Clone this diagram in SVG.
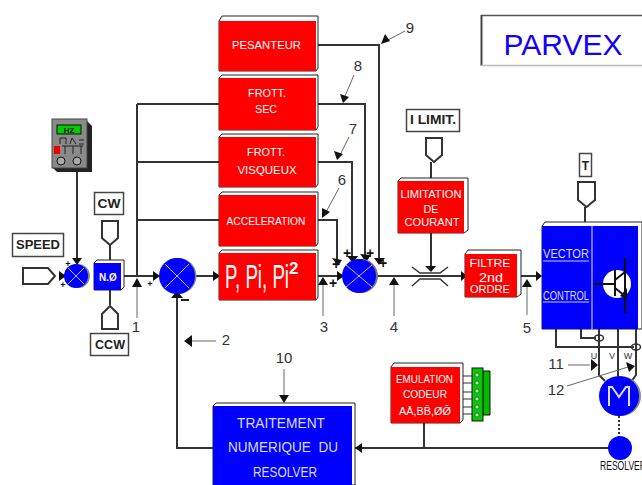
<svg xmlns="http://www.w3.org/2000/svg" width="642" height="485" viewBox="0 0 642 485">
<style>
text{font-family:"Liberation Sans",Arial,sans-serif}
.w{fill:#fff;text-anchor:middle;font-size:10px}
.u{fill:#ddf;text-anchor:middle;font-size:15px}
.n{fill:#333;font-size:15px;text-anchor:middle}
.l{fill:#222;font-size:12px;text-anchor:middle;font-weight:bold}
.c{fill:none;stroke:#333;stroke-width:2}
.t{fill:none;stroke:#666;stroke-width:1}
.r{fill:#f00}
.b{fill:#00f}
.f{fill:#fff;stroke:#222;stroke-width:1}
.lab{fill:#fff;stroke:#444;stroke-width:1.500}
.x{stroke:#bbf;stroke-width:1;fill:none}
.k{fill:#fff;stroke:#333;stroke-width:2}
.p{font-size:9px;font-weight:bold;fill:#111;text-anchor:middle}
</style>
<g id="connectors">
<path class="c" d="M77 170V263M110 245V261M110 290V305M137 104V276M137 104H219M137 162H219M137 220H219M121 276H155M195 276H214M177 297V448H213M355 448H610M424 423V448"/>
<path class="c" d="M316 45H379V260M316 104H365V258M316 162H352V259M316 220H337V262M316 276H338M377 276H461M431 162V178M431 233V266M517 276H537M585 207V222M424 423"/>
<path class="c" d="M556 329V347H634M581 329V338H596M599 329V375L605 381M618 329V376M636 329V375L631 382"/>
<path d="M619 416V437" stroke="#333" stroke-width="2" stroke-dasharray="2 2" fill="none"/>
<path class="t" d="M137 287V318M323 285V316M394 285V316M527 287V315M216 341H190M284 369V395M568 365H590M567 386L628 367M405 31L386 41M354 75L345 96M349 137L340 155M339 188L326 212"/>
<path d="M132 287H142L137 278ZM318 285H328L323 277ZM389 285H399L394 277ZM522 287H532L527 279Z" fill="#111"/>
<path d="M184 341L192 335V347ZM279 395H289L284 403ZM598 365L591 359V371ZM635 366L626 362L629 372ZM381 44L385 34L390 41ZM343 103L340 94L349 97ZM337 160L334 151L343 154ZM322 218L322 208L330 212Z" fill="#111"/>
<path d="M72 258H82L77 265ZM59 271L66 276L59 281ZM153 271L160 276L153 281ZM213 271L220 276L213 281ZM337 271L344 276L337 281ZM171 298L177 291L183 298ZM332 258L338 266L342 260ZM347 256L353 263L358 256ZM360 254L366 262L371 255ZM374 258L379 265L385 258ZM461 271L467 276L461 281ZM536 271L542 276L536 281ZM425 266H436L431 272ZM356 442L363 448L363 448ZM355 448L362 443V453Z" fill="#111"/>
</g>
<g id="parvex">
<path d="M481.500 15.500H642" stroke="#555" stroke-width="1.500" fill="none"/>
<path d="M481.500 15V66" stroke="#444" stroke-width="2" fill="none"/>
<path d="M481 65.500H642" stroke="#bbb" stroke-width="1.500" fill="none"/>
<text x="563" y="55" font-size="30" fill="#10f" text-anchor="middle">PARVEX</text>
</g>
<g id="meter">
<path d="M52 119L85 119L92 126V172H57L52 167Z" fill="#222"/>
<rect x="52" y="119" width="35" height="49" fill="#8a8a8a" stroke="#444"/>
<rect x="57" y="125" width="24" height="9" fill="#0c0" stroke="#111"/>
<text x="69" y="133" font-size="8" font-weight="bold" fill="#111" text-anchor="middle">HZ</text>
<path d="M60 144V138H66V144M70 144L72 138L76 144M79 140H84M79 144H84" fill="none" stroke="#222"/>
<rect x="54" y="146" width="6" height="8" fill="#e00"/>
<path d="M65 146V154M73 146V154M81 146V154M62 146H83" stroke="#222" fill="none"/>
<circle cx="61" cy="161" r="4" fill="#aaa" stroke="#111"/><circle cx="77" cy="161" r="4" fill="#aaa" stroke="#111"/>
</g>
<g id="speed">
<rect class="lab" x="12.500" y="233.500" width="51" height="23"/>
<text class="l" x="38" y="249" textLength="44" lengthAdjust="spacingAndGlyphs">SPEED</text>
<path class="k" d="M23 268H48L55 276L48 284H23Z"/>
</g>
<g id="sum1">
<circle cx="78" cy="276" r="12" fill="#888"/><circle cx="76" cy="276" r="12" class="b"/>
<path class="x" d="M68 268L84 284M84 268L68 284"/>
<text class="p" x="68" y="267" font-size="11">+</text><text class="p" x="63" y="288">+</text>
</g>
<g id="n0">
<path d="M94 263L97 260H124V287L121 290H94Z" fill="#fff" stroke="#222"/>
<rect x="94" y="263" width="27" height="27" class="b"/>
<text class="w" x="108" y="281" font-size="11" font-weight="bold">N.Ø</text>
</g>
<g id="cw">
<rect class="lab" x="94.500" y="192.500" width="29" height="22"/>
<text class="l" x="109" y="208" textLength="23" lengthAdjust="spacingAndGlyphs">CW</text>
<path class="k" d="M102 221H118V238L110 245L102 238Z"/>
</g>
<g id="ccw">
<path class="k" d="M110 306L118 314V329H102V314Z"/>
<rect class="lab" x="90.500" y="333.500" width="38" height="22"/>
<text class="l" x="110" y="349" textLength="30" lengthAdjust="spacingAndGlyphs">CCW</text>
</g>
<g id="sum2">
<circle cx="178.500" cy="276" r="18" fill="#888"/><circle cx="177" cy="276" r="18" class="b"/>
<path class="x" d="M165 264L189 288M189 264L165 288"/>
<text class="p" x="150" y="287" font-size="14">+</text>
<path d="M181 300H189" stroke="#222" stroke-width="2"/>
</g>
<g id="pesanteur">
<path class="f" d="M219 21L222 16H318V68L316 71H219Z"/>
<rect class="r" x="219" y="21" width="97" height="50"/>
<text class="w" x="266.500" y="49" textLength="69" lengthAdjust="spacingAndGlyphs">PESANTEUR</text>
</g>
<g id="frott-sec">
<path class="f" d="M219 78L222 75H318V127L316 130H219Z"/>
<rect class="r" x="219" y="78" width="97" height="52"/>
<text class="w" x="267" y="97" textLength="38" lengthAdjust="spacingAndGlyphs">FROTT.</text>
<text class="w" x="266" y="113" textLength="22" lengthAdjust="spacingAndGlyphs">SEC</text>
</g>
<g id="frott-visq">
<path class="f" d="M219 137L222 134H318V184L316 187H219Z"/>
<rect class="r" x="219" y="137" width="97" height="50"/>
<text class="w" x="266" y="156" textLength="38" lengthAdjust="spacingAndGlyphs">FROTT.</text>
<text class="w" x="267" y="174" textLength="59" lengthAdjust="spacingAndGlyphs">VISQUEUX</text>
</g>
<g id="acceleration">
<path class="f" d="M219 195L222 192H318V243L316 246H219Z"/>
<rect class="r" x="219" y="195" width="97" height="51"/>
<text class="w" x="266" y="225" textLength="79" lengthAdjust="spacingAndGlyphs">ACCELERATION</text>
</g>
<g id="ppi">
<path class="f" d="M219 253L222 250H318V297L316 300H219Z"/>
<rect class="r" x="219" y="253" width="97" height="47"/>
<text x="225" y="288" font-size="33" fill="#fff" textLength="64" lengthAdjust="spacingAndGlyphs">P, Pi, Pi</text>
<text x="289" y="274" font-size="17" fill="#fff" font-weight="bold">2</text>
</g>
<g id="sum3">
<circle cx="361" cy="276" r="17" fill="#777"/><circle cx="359" cy="276" r="17" class="b"/>
<path class="x" d="M346 265L372 287M372 265L346 287"/>
<g font-size="13"><text class="p" x="347" y="258" style="font-size:14px">+</text><text class="p" x="370" y="258" style="font-size:14px">+</text><text class="p" x="383" y="268" style="font-size:14px">+</text><text class="p" x="336" y="269" style="font-size:14px">+</text><text class="p" x="333" y="288" style="font-size:14px">+</text></g>
</g>
<g id="limit">
<rect class="lab" x="406.500" y="109.500" width="53" height="22"/>
<text class="l" x="433" y="124" textLength="46" lengthAdjust="spacingAndGlyphs">I LIMIT.</text>
<path class="k" d="M426 138H442V155L434 162L426 155Z"/>
<path class="f" d="M398 181L401 178H468V230L464 233H398Z"/>
<rect class="r" x="398" y="181" width="66" height="52"/>
<text class="w" x="431" y="198" textLength="61" lengthAdjust="spacingAndGlyphs">LIMITATION</text>
<text class="w" x="431" y="213" textLength="15" lengthAdjust="spacingAndGlyphs">DE</text>
<text class="w" x="432" y="226" textLength="55" lengthAdjust="spacingAndGlyphs">COURANT</text>
</g>
<g id="restriction">
<path d="M412 267L420 273H440L448 267M412 286L420 279H440L448 286" fill="none" stroke="#333" stroke-width="1.500"/>
</g>
<g id="filtre">
<path class="f" d="M465 254L468 250H521V294L517 297H465Z"/>
<rect class="r" x="465" y="254" width="52" height="43"/>
<text class="w" x="490" y="267" textLength="41" lengthAdjust="spacingAndGlyphs">FILTRE</text>
<text class="w" x="491" y="282" style="font-size:13px" textLength="24" lengthAdjust="spacingAndGlyphs">2nd</text>
<text class="w" x="490" y="293" textLength="40" lengthAdjust="spacingAndGlyphs">ORDRE</text>
</g>
<g id="vector">
<rect class="lab" x="579.500" y="153.500" width="12" height="23"/>
<text class="l" x="585.500" y="170">T</text>
<path class="k" d="M578 182H595V200L586.500 207L578 200Z"/>
<path class="f" d="M542 226L545 222H642V329H542Z"/>
<rect class="b" x="542" y="226" width="96" height="103"/>
<path d="M592 226V329" stroke="#99f" stroke-width="1.500"/>
<text class="u" x="566" y="258" style="font-size:13px" textLength="46" lengthAdjust="spacingAndGlyphs">VECTOR</text>
<path d="M543 261H589M543 302H589" stroke="#ccf"/>
<text class="u" x="566" y="300" style="font-size:13px" textLength="46" lengthAdjust="spacingAndGlyphs">CONTROL</text>
<circle cx="617" cy="284" r="14" fill="#fff"/>
<path d="M594 284H614M615 270V296M625 258V313M615 280L625 272M615 288L625 296" stroke="#111" stroke-width="2" fill="none"/>
<path d="M627 288L620 296L627 299Z" fill="#111"/>
</g>
<g id="motor">
<ellipse cx="599" cy="338" rx="4.500" ry="3" fill="none" stroke="#333" stroke-width="1.500"/>
<ellipse cx="636" cy="347" rx="4.500" ry="3" fill="none" stroke="#333" stroke-width="1.500"/>
<text x="594" y="359" font-size="9" fill="#333" text-anchor="middle">U</text>
<text x="612" y="359" font-size="9" fill="#333" text-anchor="middle">V</text>
<text x="628" y="359" font-size="9" fill="#333" text-anchor="middle">W</text>
<circle cx="621" cy="396" r="20" fill="#888"/><circle cx="619" cy="396" r="20" class="b"/>
<path d="M609 406V387H612L619 397L626 387H629V406" fill="none" stroke="#ddf" stroke-width="2"/>
</g>
<g id="resolver">
<circle cx="620" cy="448" r="12" class="b"/>
<text x="600" y="470" font-size="12" fill="#111" textLength="46" lengthAdjust="spacingAndGlyphs">RESOLVER</text>
</g>
<g id="traitement">
<path class="f" d="M213 406L216 403H355V485H213Z"/>
<rect class="b" x="213" y="406" width="139" height="79"/>
<text class="u" x="281" y="428" textLength="88" lengthAdjust="spacingAndGlyphs">TRAITEMENT</text>
<text class="u" x="283" y="452" textLength="110" lengthAdjust="spacingAndGlyphs" xml:space="preserve">NUMERIQUE  DU</text>
<text class="u" x="285" y="477" textLength="64" lengthAdjust="spacingAndGlyphs">RESOLVER</text>
</g>
<g id="emulation">
<path class="f" d="M391 367L394 363H463V420L460 423H391Z"/>
<rect class="r" x="391" y="367" width="69" height="56"/>
<text class="w" x="424.500" y="383" textLength="57" lengthAdjust="spacingAndGlyphs">EMULATION</text>
<text class="w" x="425" y="398" textLength="44" lengthAdjust="spacingAndGlyphs">CODEUR</text>
<text class="w" x="425" y="415" textLength="52" lengthAdjust="spacingAndGlyphs">AĀ,BB̄,ØØ̄</text>
<path d="M463 376H472M463 383H472M463 392H472M463 399H472M463 407H472M463 414H472" stroke="#333"/>
<path d="M483 371H490V415H483Z" fill="#0b0" stroke="#111"/>
<rect x="472" y="368" width="11" height="53" fill="#0c0" stroke="#111"/>
<g fill="#ccc" stroke="#222" stroke-width=".5"><circle cx="477" cy="375" r="2"/><circle cx="477" cy="383" r="2"/><circle cx="477" cy="391" r="2"/><circle cx="477" cy="399" r="2"/><circle cx="477" cy="407" r="2"/><circle cx="477" cy="415" r="2"/></g>
</g>
<g id="numbers">
<text class="n" x="136" y="332">1</text><text class="n" x="226" y="345">2</text><text class="n" x="324" y="332">3</text><text class="n" x="394" y="332">4</text><text class="n" x="527" y="333">5</text><text class="n" x="342" y="185">6</text><text class="n" x="353" y="134">7</text><text class="n" x="358" y="71">8</text><text class="n" x="410" y="33">9</text><text class="n" x="284" y="363">10</text><text class="n" x="556" y="369">11</text><text class="n" x="556" y="395">12</text>
</g>
</svg>
